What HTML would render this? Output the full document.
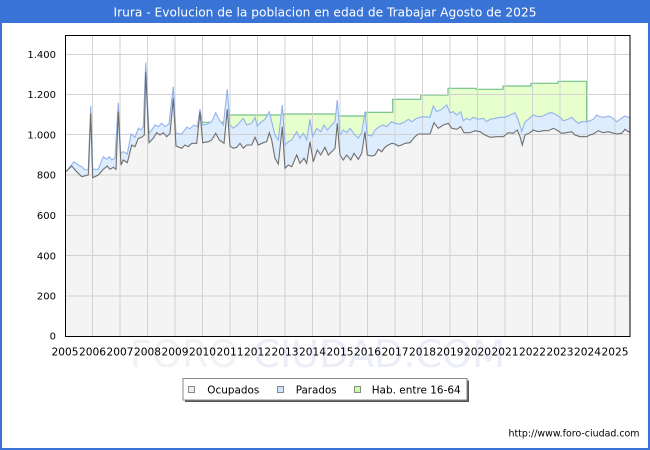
<!DOCTYPE html>
<html><head><meta charset="utf-8">
<style>html,body{margin:0;padding:0;background:#fff}svg{display:block}</style>
</head>
<body>
<svg width="650" height="450" viewBox="0 0 650 450" xmlns="http://www.w3.org/2000/svg" font-family="'DejaVu Sans', 'Liberation Sans', sans-serif">
<defs>
<clipPath id="pc"><rect x="65.5" y="35.5" width="564.5" height="301"/></clipPath>
</defs>
<rect x="0" y="0" width="650" height="450" fill="#fff"/>
<rect x="1" y="1" width="648" height="448" fill="none" stroke="#3873d5" stroke-width="2"/>
<rect x="0" y="0" width="650" height="23" fill="#3873d5"/>
<text x="325" y="16.5" fill="#fff" font-size="12.5" text-anchor="middle" textLength="423" lengthAdjust="spacingAndGlyphs">Irura - Evolucion de la poblacion en edad de Trabajar Agosto de 2025</text>

<!-- watermark -->
<text x="130" y="367" font-size="37" textLength="375" lengthAdjust="spacingAndGlyphs"><tspan fill="#f2f2f2">FORO-</tspan><tspan fill="#ebedf9">CIUDAD.COM</tspan></text>

<g clip-path="url(#pc)">
<!-- green -->
<polygon fill="#e6ffcc" points="202.7,336.3 202.7,122.3 228,122.3 228,115 284,115 284,114 337.3,114 337.3,116 365.7,116 365.7,112.3 392.7,112.3 392.7,99.3 420.7,99.3 420.7,95 448,95 448,88.3 476,88.3 476,89.3 503,89.3 503,86 531,86 531,83.3 558,83.3 558,81.3 586.7,81.3 586.7,336.3"/>
<polyline fill="none" stroke="#74c08a" stroke-width="1.2" points="202.7,336.3 202.7,122.3 228,122.3 228,115 284,115 284,114 337.3,114 337.3,116 365.7,116 365.7,112.3 392.7,112.3 392.7,99.3 420.7,99.3 420.7,95 448,95 448,88.3 476,88.3 476,89.3 503,89.3 503,86 531,86 531,83.3 558,83.3 558,81.3 586.7,81.3 586.7,336.3"/>
<!-- blue -->
<polygon id="bp" fill="#deedfe" points="65.5,336.3 65.5,171.7 66,171.7 74,161.7 78.3,165 81.7,166.7 85,170 88.3,169.3 90.7,106 92.7,169.3 98.3,169.3 103.3,156.7 106.7,159.3 109.3,156.7 111.7,160 115,158 118.3,102.7 120.7,153.3 123.3,151.7 127.3,154 131,134 135,137.3 138.3,128.3 140.7,130 143.3,126.7 145.7,62.7 149,133.3 151.7,130 155,125 158.3,126.7 161.7,123.3 165,126.7 169,124 173.3,86.7 176,133.3 181.7,134 186.7,127.3 190,128.7 194,125 197.3,126.7 200,109.3 202.7,125 206.7,124.3 211.7,121.7 215.7,112.7 219.3,120 223.3,125 227.3,89.3 230,125 233.3,128.3 238.3,124 243.3,118.3 246.7,125 251.7,123.3 255,117.3 257.3,126 261.7,121.7 265,119.3 269.3,111.7 271.7,121.7 275,135 278.3,140 282.3,105 285,145 288.3,141.7 291.7,140 296.7,131.7 300,138.3 303.3,133.3 306.7,140 310,119.3 312.7,136.7 316.7,128.3 320.7,131.7 324,125 327.3,130 331.7,125 335,121.7 337.3,100 340,135 343.3,130 346.7,132.7 350,128.3 355,135 358.3,138.3 361.7,132.7 365,111.7 367.3,135 371.7,136 375,130 379.3,126.7 383.3,125 386.7,126.7 391.7,121.7 395,123.3 400,124 405,121.7 408.3,119.3 411.7,121.7 416.7,118.3 420,117.3 423.3,116.7 430,117.3 433.3,106 436.7,111.7 441.7,109.3 446.7,105 450,112.7 453.3,111.7 456.7,115 460.7,111.7 463.3,120.7 466.7,118.3 470,120 473.3,117.3 478.3,119.3 483.3,118.3 486.7,121.7 490,119.3 495,118.3 500,117.3 505,117.3 510,115 515,112.7 518.3,120 521.7,131.7 525,121.7 528.3,119.3 533.3,115 538.3,116.7 543.3,116 548.3,113.3 551.7,112.7 555,114 560,117.3 563.3,120.7 568.3,119.3 571.7,117.3 575,120.7 578.3,123.3 581.7,121.7 586.7,121.7 590,120.7 593.3,119.3 596.7,115 600,116.7 605,117.3 608.3,116 611.7,117.3 616.7,121.7 620,119.3 625,116 628.3,117.3 630,118 630,336.3"/>
<!-- gray -->
<polygon fill="#f4f4f4" points="65.5,336.3 65.5,171.7 66,171.7 71.7,166 76.7,171.7 81.7,176.7 88.3,175 90.7,113.3 92.7,177.7 98.3,175 103.3,169.3 107.3,166 110,169.3 113.3,167.3 116,169.3 118.3,111.7 121,165 123.3,160 127.3,162.7 131.7,145 135,146.7 138.3,138.3 141.7,137.3 144.3,135 145.7,71.7 149,142.7 153.3,138.3 156.7,132.7 160,135 163.3,132.7 166.7,136.7 170,133.3 173.3,98.3 176,146 181.7,148.3 185,145 188.3,146.7 191.7,143.3 196.7,143.3 200,111.7 202.7,142.7 208.3,141.7 211.7,140 215.7,133.3 219.3,140 224,143.3 227.3,109.3 230,146 233.3,148.3 236.7,147.3 240,143.3 243.3,148.3 246.7,145 251.7,145 255,137.3 258.3,145 263.3,142.7 266.7,141.7 269.3,132.7 271.7,140 275,158.3 278.3,164 282.3,126.7 285,168.3 288.3,165 291.7,166.7 296.7,155 300,163.3 304,158.3 306.7,163.3 310,141.7 313.3,161.7 317.3,150 320.7,155 325,147.3 328.3,155 331.7,151.7 335,148.3 337.3,123.3 340,155 343.3,160 346.7,155 350.7,160 354,153.3 358.3,159.3 361.7,153.3 365,131.7 367.3,155 371.7,156 375,155 378.3,149.3 381.7,151.7 385,147.3 388.3,145 391.7,143.3 395,144 398.3,146 401.7,145 405,143.3 410,142.7 415,136.7 418.3,134 430,134 434,122.7 438.3,128.3 443.3,125 448.3,123.3 451.7,128.3 456.7,129.3 460.7,126.7 464,132.7 470,132.7 475,130.7 480,131.7 485,135 490,137.3 496.7,136.7 503.3,136.7 508.3,132.7 513.3,133.3 517.3,130 520,136.7 522.3,145 525,135 530,132.7 533.3,130 538.3,131.7 543.3,130.7 548.3,130.7 553.3,128.3 556.7,130 561.7,133.3 566.7,132.7 571.7,131.7 575,135 580,136.7 586.7,136.7 590,135 593.3,134 598.3,130.7 603.3,132.7 608.3,131.7 611.7,132.7 616.7,134 621.7,133.3 625,129.3 628.3,131.7 630,132 630,336.3"/>

<!-- gridlines -->
<g stroke="#d2d2d2" stroke-width="1">
<line x1="65" y1="54.5" x2="630" y2="54.5"/>
<line x1="65" y1="94.5" x2="630" y2="94.5"/>
<line x1="65" y1="134.5" x2="630" y2="134.5"/>
<line x1="65" y1="175" x2="630" y2="175"/>
<line x1="65" y1="215.5" x2="630" y2="215.5"/>
<line x1="65" y1="255.5" x2="630" y2="255.5"/>
<line x1="65" y1="296" x2="630" y2="296"/>
<line x1="92.5" y1="35" x2="92.5" y2="337"/>
<line x1="120" y1="35" x2="120" y2="337"/>
<line x1="147.5" y1="35" x2="147.5" y2="337"/>
<line x1="175" y1="35" x2="175" y2="337"/>
<line x1="202.5" y1="35" x2="202.5" y2="337"/>
<line x1="230" y1="35" x2="230" y2="337"/>
<line x1="257.5" y1="35" x2="257.5" y2="337"/>
<line x1="285" y1="35" x2="285" y2="337"/>
<line x1="312.5" y1="35" x2="312.5" y2="337"/>
<line x1="340" y1="35" x2="340" y2="337"/>
<line x1="367.5" y1="35" x2="367.5" y2="337"/>
<line x1="395" y1="35" x2="395" y2="337"/>
<line x1="422.5" y1="35" x2="422.5" y2="337"/>
<line x1="450" y1="35" x2="450" y2="337"/>
<line x1="477.5" y1="35" x2="477.5" y2="337"/>
<line x1="505" y1="35" x2="505" y2="337"/>
<line x1="532.5" y1="35" x2="532.5" y2="337"/>
<line x1="560" y1="35" x2="560" y2="337"/>
<line x1="587.5" y1="35" x2="587.5" y2="337"/>
<line x1="615" y1="35" x2="615" y2="337"/>
</g>

<!-- lines -->
<polyline fill="none" stroke="#91b3ea" stroke-width="1.1" points="65.5,171.7 66,171.7 74,161.7 78.3,165 81.7,166.7 85,170 88.3,169.3 90.7,106 92.7,169.3 98.3,169.3 103.3,156.7 106.7,159.3 109.3,156.7 111.7,160 115,158 118.3,102.7 120.7,153.3 123.3,151.7 127.3,154 131,134 135,137.3 138.3,128.3 140.7,130 143.3,126.7 145.7,62.7 149,133.3 151.7,130 155,125 158.3,126.7 161.7,123.3 165,126.7 169,124 173.3,86.7 176,133.3 181.7,134 186.7,127.3 190,128.7 194,125 197.3,126.7 200,109.3 202.7,125 206.7,124.3 211.7,121.7 215.7,112.7 219.3,120 223.3,125 227.3,89.3 230,125 233.3,128.3 238.3,124 243.3,118.3 246.7,125 251.7,123.3 255,117.3 257.3,126 261.7,121.7 265,119.3 269.3,111.7 271.7,121.7 275,135 278.3,140 282.3,105 285,145 288.3,141.7 291.7,140 296.7,131.7 300,138.3 303.3,133.3 306.7,140 310,119.3 312.7,136.7 316.7,128.3 320.7,131.7 324,125 327.3,130 331.7,125 335,121.7 337.3,100 340,135 343.3,130 346.7,132.7 350,128.3 355,135 358.3,138.3 361.7,132.7 365,111.7 367.3,135 371.7,136 375,130 379.3,126.7 383.3,125 386.7,126.7 391.7,121.7 395,123.3 400,124 405,121.7 408.3,119.3 411.7,121.7 416.7,118.3 420,117.3 423.3,116.7 430,117.3 433.3,106 436.7,111.7 441.7,109.3 446.7,105 450,112.7 453.3,111.7 456.7,115 460.7,111.7 463.3,120.7 466.7,118.3 470,120 473.3,117.3 478.3,119.3 483.3,118.3 486.7,121.7 490,119.3 495,118.3 500,117.3 505,117.3 510,115 515,112.7 518.3,120 521.7,131.7 525,121.7 528.3,119.3 533.3,115 538.3,116.7 543.3,116 548.3,113.3 551.7,112.7 555,114 560,117.3 563.3,120.7 568.3,119.3 571.7,117.3 575,120.7 578.3,123.3 581.7,121.7 586.7,121.7 590,120.7 593.3,119.3 596.7,115 600,116.7 605,117.3 608.3,116 611.7,117.3 616.7,121.7 620,119.3 625,116 628.3,117.3 630,118"/>
<polyline fill="none" stroke="#6e6e6e" stroke-width="1.1" points="65.5,171.7 66,171.7 71.7,166 76.7,171.7 81.7,176.7 88.3,175 90.7,113.3 92.7,177.7 98.3,175 103.3,169.3 107.3,166 110,169.3 113.3,167.3 116,169.3 118.3,111.7 121,165 123.3,160 127.3,162.7 131.7,145 135,146.7 138.3,138.3 141.7,137.3 144.3,135 145.7,71.7 149,142.7 153.3,138.3 156.7,132.7 160,135 163.3,132.7 166.7,136.7 170,133.3 173.3,98.3 176,146 181.7,148.3 185,145 188.3,146.7 191.7,143.3 196.7,143.3 200,111.7 202.7,142.7 208.3,141.7 211.7,140 215.7,133.3 219.3,140 224,143.3 227.3,109.3 230,146 233.3,148.3 236.7,147.3 240,143.3 243.3,148.3 246.7,145 251.7,145 255,137.3 258.3,145 263.3,142.7 266.7,141.7 269.3,132.7 271.7,140 275,158.3 278.3,164 282.3,126.7 285,168.3 288.3,165 291.7,166.7 296.7,155 300,163.3 304,158.3 306.7,163.3 310,141.7 313.3,161.7 317.3,150 320.7,155 325,147.3 328.3,155 331.7,151.7 335,148.3 337.3,123.3 340,155 343.3,160 346.7,155 350.7,160 354,153.3 358.3,159.3 361.7,153.3 365,131.7 367.3,155 371.7,156 375,155 378.3,149.3 381.7,151.7 385,147.3 388.3,145 391.7,143.3 395,144 398.3,146 401.7,145 405,143.3 410,142.7 415,136.7 418.3,134 430,134 434,122.7 438.3,128.3 443.3,125 448.3,123.3 451.7,128.3 456.7,129.3 460.7,126.7 464,132.7 470,132.7 475,130.7 480,131.7 485,135 490,137.3 496.7,136.7 503.3,136.7 508.3,132.7 513.3,133.3 517.3,130 520,136.7 522.3,145 525,135 530,132.7 533.3,130 538.3,131.7 543.3,130.7 548.3,130.7 553.3,128.3 556.7,130 561.7,133.3 566.7,132.7 571.7,131.7 575,135 580,136.7 586.7,136.7 590,135 593.3,134 598.3,130.7 603.3,132.7 608.3,131.7 611.7,132.7 616.7,134 621.7,133.3 625,129.3 628.3,131.7 630,132"/>
</g>

<!-- plot border -->
<rect x="65.5" y="35.5" width="564.5" height="301" fill="none" stroke="#000" stroke-width="1"/>

<!-- y labels -->
<g font-size="10" fill="#000" text-anchor="end">
<text x="56" y="58">1.400</text>
<text x="56" y="98">1.200</text>
<text x="56" y="138.3">1.000</text>
<text x="56" y="178.6">800</text>
<text x="56" y="219">600</text>
<text x="56" y="259.3">400</text>
<text x="56" y="299.6">200</text>
<text x="56" y="339.5">0</text>
</g>

<!-- x labels -->
<g font-size="10.5" fill="#000" text-anchor="middle">
<text x="65" y="355.5" textLength="27" lengthAdjust="spacingAndGlyphs">2005</text>
<text x="92.5" y="355.5" textLength="27" lengthAdjust="spacingAndGlyphs">2006</text>
<text x="120" y="355.5" textLength="27" lengthAdjust="spacingAndGlyphs">2007</text>
<text x="147.5" y="355.5" textLength="27" lengthAdjust="spacingAndGlyphs">2008</text>
<text x="175" y="355.5" textLength="27" lengthAdjust="spacingAndGlyphs">2009</text>
<text x="202.5" y="355.5" textLength="27" lengthAdjust="spacingAndGlyphs">2010</text>
<text x="230" y="355.5" textLength="27" lengthAdjust="spacingAndGlyphs">2011</text>
<text x="257.5" y="355.5" textLength="27" lengthAdjust="spacingAndGlyphs">2012</text>
<text x="285" y="355.5" textLength="27" lengthAdjust="spacingAndGlyphs">2013</text>
<text x="312.5" y="355.5" textLength="27" lengthAdjust="spacingAndGlyphs">2014</text>
<text x="340" y="355.5" textLength="27" lengthAdjust="spacingAndGlyphs">2015</text>
<text x="367.5" y="355.5" textLength="27" lengthAdjust="spacingAndGlyphs">2016</text>
<text x="395" y="355.5" textLength="27" lengthAdjust="spacingAndGlyphs">2017</text>
<text x="422.5" y="355.5" textLength="27" lengthAdjust="spacingAndGlyphs">2018</text>
<text x="450" y="355.5" textLength="27" lengthAdjust="spacingAndGlyphs">2019</text>
<text x="477.5" y="355.5" textLength="27" lengthAdjust="spacingAndGlyphs">2020</text>
<text x="505" y="355.5" textLength="27" lengthAdjust="spacingAndGlyphs">2021</text>
<text x="532.5" y="355.5" textLength="27" lengthAdjust="spacingAndGlyphs">2022</text>
<text x="560" y="355.5" textLength="27" lengthAdjust="spacingAndGlyphs">2023</text>
<text x="587.5" y="355.5" textLength="27" lengthAdjust="spacingAndGlyphs">2024</text>
<text x="615" y="355.5" textLength="27" lengthAdjust="spacingAndGlyphs">2025</text>
</g>

<!-- legend -->
<rect x="185" y="380.5" width="284" height="21.5" fill="#555"/>
<rect x="183" y="378.5" width="284" height="21.5" fill="#fff" stroke="#8a8a8a" stroke-width="1"/>
<rect x="188.5" y="386.5" width="6" height="6" fill="#eeeeee" stroke="#888" stroke-width="1"/>
<text x="207.3" y="393.3" font-size="10.5" textLength="52" lengthAdjust="spacingAndGlyphs">Ocupados</text>
<rect x="277.5" y="386.5" width="6" height="6" fill="#cfe3ff" stroke="#888" stroke-width="1"/>
<text x="295.7" y="393.3" font-size="10.5" textLength="41" lengthAdjust="spacingAndGlyphs">Parados</text>
<rect x="354.5" y="386.5" width="6" height="6" fill="#ccff99" stroke="#888" stroke-width="1"/>
<text x="371.7" y="393.3" font-size="10.5" textLength="89" lengthAdjust="spacingAndGlyphs">Hab. entre 16-64</text>

<!-- footer -->
<text x="639.5" y="436.5" font-size="9.5" text-anchor="end" textLength="131" lengthAdjust="spacingAndGlyphs">http://www.foro-ciudad.com</text>
</svg>
</body></html>
